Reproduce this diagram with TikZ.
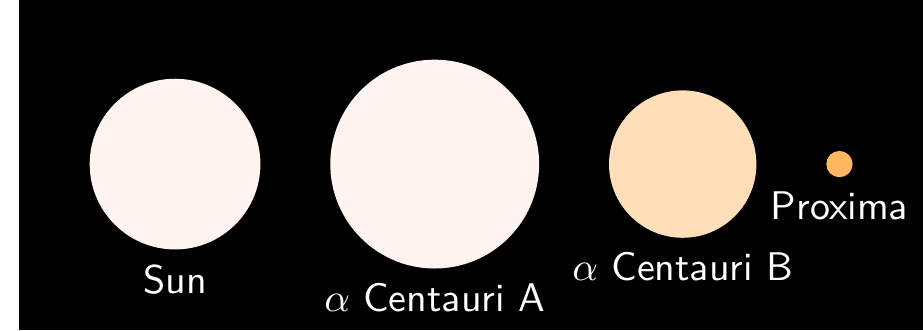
\documentclass[tikz,border=0pt]{standalone}
\usetikzlibrary{positioning}
\definecolor{suncol}{RGB}{255,244,240}
\definecolor{acencol}{RGB}{255,244,240}
\definecolor{bcencol}{RGB}{255,223,186}
\definecolor{proxcol}{RGB}{255,184,96}
\tikzset{
  star/.style={circle, inner sep=0pt, fill=#1},
  starname/.style={text=white, font=\sffamily}
}
\begin{document}
\begin{tikzpicture}
\useasboundingbox (0,0) rectangle (8.11,2.9);
\fill[black] (0.167,0) rectangle (8.11,2.9);
% stars, radii relative to the Sun
\node[star=suncol, minimum size=1.5cm] (sun) at (1.538,1.458) {};
\node[star=acencol, minimum size=1.835cm, right=0.6cm of sun] (acena) {};
\node[star=bcencol, minimum size=1.295cm, right=0.6cm of acena] (acenb) {};
\node[star=proxcol, minimum size=0.231cm, right=0.6cm of acenb] (prox) {};
% names
\node[starname, below=0pt of sun] (sunname) {Sun};
\node[starname, below=0pt of acena] (acenaname) {$\alpha$ Centauri A};
\node[starname, below=0pt of acenb] (acenbname) {$\alpha$ Centauri B};
\node[starname, below=0pt of prox] (proxname) {Proxima};
\end{tikzpicture}
\end{document}
